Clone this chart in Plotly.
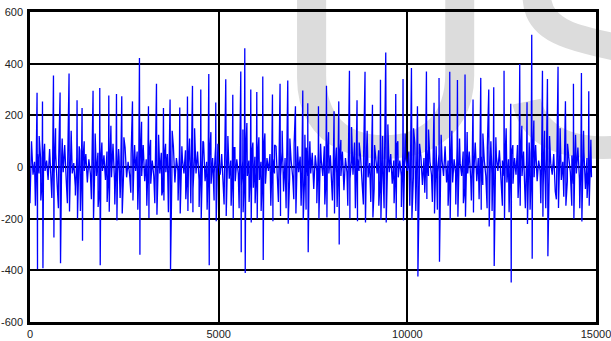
import plotly.graph_objects as go

# ---- data ----
beat_x = [193, 337, 628, 803, 1041, 1253, 1386, 1677, 1855, 2094, 2298, 2438, 2722, 2907, 3146,
          3358, 3543, 3718, 3975, 4179, 4312, 4532, 4744, 4929, 5194, 5380, 5592, 5698, 5857, 6016,
          6175, 6432, 6633, 6837, 7041, 7235, 7367, 7651, 7863, 8064, 8189, 8472, 8673, 8885, 9082,
          9294, 9434, 9699, 9892, 10115, 10274, 10512, 10714, 10846, 11130, 11334, 11535, 11747, 11952, 12164,
          12296, 12569, 12747, 12985, 13178, 13303, 13587, 13719, 14000, 14196, 14408, 14620, 14814]
beat_peak = [287, 254, 354, 288, 362, 258, 228, 295, 306, 277, 283, 274, 254, 422, 235,
             322, 228, 261, 230, 273, 314, 300, 360, 250, 340, 280, 370, 460, 300, 290,
             350, 281, 322, 335, 235, 296, 247, 235, 315, 216, 254, 373, 258, 369, 241,
             338, 443, 283, 341, 383, 235, 370, 249, 345, 369, 337, 358, 261, 345, 300,
             309, 373, 245, 399, 251, 512, 373, 341, 388, 254, 322, 364, 293]
beat_trough = [-396, -392, -273, -373, -172, -200, -285, -204, -380, -173, -207, -180, -130, -340, -197,
               -185, -130, -400, -180, -170, -175, -200, -380, -210, -190, -200, -330, -410, -215, -200,
               -360, -210, -190, -220, -180, -205, -330, -200, -195, -180, -300, -200, -210, -215, -195,
               -205, -215, -200, -207, -204, -424, -124, -180, -367, -204, -193, -193, -176, -165, -230,
               -383, -204, -447, -150, -221, -355, -193, -345, -159, -150, -200, -211, -150]
beat_sub_peak = [120, 90, 150, 110, 140, 80, 100, 130, 95, 160,
                 70, 115, 85, 175, 105, 125, 90, 140, 80, 110,
                 150, 100, 135, 90, 120, 75, 145, 170, 95, 115,
                 130, 85, 140, 110, 80, 125, 100, 90, 135, 70,
                 105, 155, 95, 140, 85, 120, 165, 100, 130, 150,
                 90, 145, 80, 125, 140, 110, 135, 90, 130, 100,
                 115, 150, 85, 160, 95, 180, 140, 120, 150, 90,
                 125, 140, 105]
beat_sub_trough = [-150, -130, -120, -160, -140, -110, -170, -125, -155, -135,
                   -145, -120, -100, -165, -150, -140, -110, -175, -130, -125,
                   -140, -155, -165, -130, -145, -150, -160, -175, -135, -140,
                   -170, -150, -135, -160, -125, -150, -165, -140, -145, -130,
                   -155, -150, -160, -145, -135, -150, -160, -140, -155, -150,
                   -170, -100, -135, -165, -150, -145, -140, -130, -125, -160,
                   -170, -150, -175, -120, -160, -165, -140, -160, -125, -115,
                   -150, -160, -120]

bg_step = 40
bg_values = [
    -140, 100, -30, 20, -45, 50, -25, 35, -60, 40, -15, 25, -50, 70, -35, 20, -25, 55, -70, 30,
    -35, 45, -20, 85, -50, 25, -40, 60, -25, 15, -75, 40, -30, 65, -45, 20, -15, 50, -60, 30,
    -25, 80, -40, 20, -35, 55, -90, 30, -15, 45, -50, 60, -25, 15, -40, 90, -55, 25, -20, 40,
    -70, 35, -25, 75, -40, 20, -30, 50, -85, 40, -15, 60, -45, 20, -35, 85, -55, 30, -25, 45,
    -65, 25, -35, 70, -40, 20, -25, 55, -90, 35, -20, 50, -50, 25, -30, 80, -60, 35, -15, 45,
    -75, 30, -25, 65, -40, 15, -35, 55, -85, 40, -25, 60, -50, 25, -35, 95, -55, 20, -20, 45,
    -65, 35, -25, 80, -45, 20, -30, 50, -90, 35, -15, 65, -45, 25, -40, 75, -55, 30, -25, 40,
    -70, 25, -35, 70, -35, 25, -25, 55, -80, 40, -20, 55, -50, 20, -30, 85, -65, 35, -15, 50,
    -60, 30, -25, 80, -40, 15, -35, 60, -95, 35, -25, 50, -45, 25, -35, 90, -55, 25, -20, 40,
    -70, 35, -30, 75, -35, 20, -25, 55, -85, 45, -15, 60, -50, 25, -35, 80, -60, 30, -25, 45,
    -65, 25, -25, 75, -45, 20, -35, 60, -90, 35, -20, 55, -45, 25, -30, 95, -55, 30, -15, 40,
    -75, 30, -35, 70, -40, 15, -25, 50, -85, 40, -25, 65, -50, 20, -35, 80, -55, 35, -20, 50,
    -65, 25, -30, 85, -40, 25, -35, 60, -80, 35, -15, 60, -45, 25, -40, 90, -65, 30, -25, 40,
    -70, 35, -25, 65, -35, 20, -30, 55, -95, 45, -20, 50, -50, 25, -35, 80, -60, 25, -15, 45,
    -60, 30, -25, 80, -45, 15, -35, 60, -85, 35, -25, 60, -45, 20, -30, 95, -55, 35, -20, 40,
    -70, 25, -35, 75, -40, 25, -25, 55, -90, 40, -15, 65, -50, 25, -35, 75, -60, 30, -25, 50,
    -65, 35, -30, 85, -40, 20, -35, 60, -80, 35, -20, 55, -45, 25, -40, 85, -55, 25, -15, 40,
    -75, 30, -25, 70, -35, 15, -30, 50, -95, 45, -25, 60, -50, 20, -35, 90, -55, 35, -20, 45,
    -65, 25, -25, 75, -45, 25, -35, 60, -85, 35, -15, 55, -40,
]

x_ticks = [0, 5000, 10000, 15000]
y_ticks = [-600, -400, -200, 0, 200, 400, 600]
watermark = "US"

# ---- assemble the trace points ----
pts = [(i * bg_step, v) for i, v in enumerate(bg_values)]
for bx, bp, bt, sp, st in zip(beat_x, beat_peak, beat_trough, beat_sub_peak, beat_sub_trough):
    pts.append((bx - 50, st))
    pts.append((bx - 6, bp))
    pts.append((bx + 6, bt))
    pts.append((bx + 50, sp))
pts.sort(key=lambda p: p[0])
xs = [p[0] for p in pts]
ys = [p[1] for p in pts]

fig = go.Figure()
fig.add_trace(go.Scatter(x=xs, y=ys, mode="lines",
                         line=dict(color="#0000ff", width=1.3),
                         hoverinfo="skip", showlegend=False))

# watermark text behind the grid
fig.add_shape(type="rect", xref="paper", yref="paper",
              x0=0.4187, x1=1.18, y0=0.41, y1=1.4,
              line=dict(width=0), fillcolor="rgba(0,0,0,0)", layer="below",
              label=dict(text=watermark, textposition="bottom left",
                         font=dict(family="Liberation Sans", size=312, color="#dcdcdc")))

fig.update_layout(
    width=611, height=341,
    margin=dict(l=30, r=15, t=12, b=19),
    paper_bgcolor="white", plot_bgcolor="white",
    font=dict(family="Liberation Sans", size=11, color="#222222"),
    showlegend=False,
)
fig.update_xaxes(range=[0, 15000], tickvals=x_ticks, ticktext=[str(v) for v in x_ticks],
                 showgrid=True, gridcolor="black", gridwidth=1.5, automargin=False,
                 showline=True, linecolor="black", linewidth=2.5, mirror=True,
                 zeroline=False, ticks="", ticklabelstandoff=0, ticklabeloverflow="allow")
fig.update_yaxes(range=[-600, 600], tickvals=y_ticks, ticktext=[str(v) for v in y_ticks],
                 showgrid=True, gridcolor="black", gridwidth=2, automargin=False,
                 showline=True, linecolor="black", linewidth=2.5, mirror=True,
                 zeroline=False, ticks="", ticklabelstandoff=2, ticklabeloverflow="allow")

# remove the page's default body margin so the figure sits at the window's corner
fig.write_html("out.html", config={"displayModeBar": False},
               post_script="document.body.style.margin='0';")
